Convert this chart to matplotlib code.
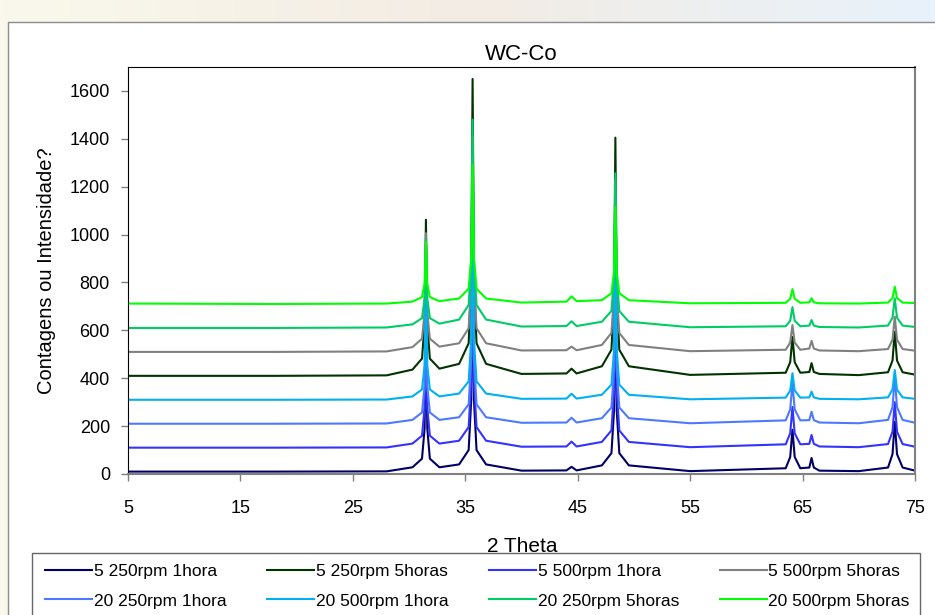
import matplotlib
matplotlib.use('Agg')
import matplotlib.pyplot as plt
from matplotlib.patches import Rectangle
import numpy as np

plt.rcParams['font.family'] = ['Liberation Sans', 'DejaVu Sans']

# ---- data (2 theta grid shared by all patterns) ----
two_theta = [5, 18, 28, 30.3, 31.15, 31.38, 31.5, 31.62, 31.85, 32.7,
             34.45, 35.3, 35.53, 35.65, 35.77, 36.0, 36.85, 40,
             44.0, 44.45, 44.9, 47.15, 48.0, 48.23, 48.35, 48.47, 48.7, 49.55,
             55, 63.5, 63.9, 64.1, 64.3, 64.8, 65.6, 65.8, 66.0, 66.5,
             70, 72.6, 73.0, 73.2, 73.4, 73.9, 75]

counts_5_250_1h = [10, 10, 11, 28, 64, 190, 610, 190, 64, 28,
                   40, 100, 310, 1010, 310, 100, 40, 14,
                   15, 30, 15, 36, 87, 265, 860, 265, 87, 36,
                   12, 24, 71, 185, 71, 24, 27, 67, 27, 14,
                   12, 27, 83, 218, 83, 27, 14]
counts_5_250_5h = [410, 410, 412, 436, 482, 625, 1062, 625, 482, 440,
                   460, 546, 819, 1650, 819, 546, 460, 418,
                   420, 440, 420, 450, 519, 738, 1405, 738, 519, 450,
                   414, 423, 467, 572, 467, 423, 426, 463, 426, 418,
                   413, 425, 474, 594, 474, 425, 415]
counts_5_500_1h = [110, 110, 111, 127, 160, 278, 670, 278, 160, 127,
                   139, 196, 395, 1060, 395, 196, 139, 114,
                   115, 135, 115, 134, 182, 350, 910, 350, 182, 134,
                   112, 124, 170, 280, 170, 124, 126, 163, 126, 115,
                   112, 125, 177, 300, 177, 125, 114]
counts_5_500_5h = [510, 510, 512, 530, 565, 674, 1006, 674, 565, 532,
                   546, 609, 807, 1410, 807, 609, 546, 516,
                   517, 532, 517, 539, 589, 748, 1230, 748, 589, 539,
                   513, 519, 549, 622, 549, 519, 524, 556, 524, 516,
                   513, 522, 561, 657, 561, 522, 515]
counts_20_250_1h = [210, 210, 211, 226, 257, 366, 730, 366, 257, 226,
                    237, 291, 480, 1110, 480, 291, 237, 214,
                    215, 235, 215, 233, 278, 438, 970, 438, 278, 233,
                    212, 224, 270, 380, 270, 224, 225, 260, 225, 215,
                    212, 226, 279, 406, 279, 226, 214]
counts_20_500_1h = [310, 310, 311, 324, 353, 454, 790, 454, 353, 324,
                    336, 387, 565, 1160, 565, 387, 336, 314,
                    315, 335, 315, 331, 373, 520, 1010, 520, 373, 331,
                    312, 319, 349, 421, 349, 319, 320, 344, 320, 314,
                    312, 320, 353, 434, 353, 320, 314]
counts_20_250_5h = [610, 610, 612, 625, 651, 732, 980, 732, 651, 628,
                    645, 706, 897, 1480, 897, 706, 645, 616,
                    618, 638, 618, 636, 681, 823, 1256, 823, 681, 636,
                    613, 617, 640, 697, 640, 617, 620, 643, 620, 614,
                    612, 620, 653, 734, 653, 620, 614]
counts_20_500_5h = [712, 710, 712, 720, 739, 796, 970, 796, 739, 722,
                    733, 774, 901, 1290, 901, 774, 733, 716,
                    720, 742, 722, 726, 755, 844, 1116, 844, 755, 726,
                    713, 715, 732, 772, 732, 715, 717, 734, 717, 713,
                    712, 716, 735, 782, 735, 716, 714]

series_labels = ['5 250rpm 1hora', '5 250rpm 5horas', '5 500rpm 1hora', '5 500rpm 5horas',
                 '20 250rpm 1hora', '20 500rpm 1hora', '20 250rpm 5horas', '20 500rpm 5horas']
series_colors = ['#000066', '#003300', '#3333FF', '#808080',
                 '#4D79FF', '#00B0F0', '#00CC66', '#00FF00']
series_counts = [counts_5_250_1h, counts_5_250_5h, counts_5_500_1h, counts_5_500_5h,
                 counts_20_250_1h, counts_20_500_1h, counts_20_250_5h, counts_20_500_5h]

W, H = 935, 615
fig = plt.figure(figsize=(W / 100, H / 100), dpi=100)

# soft gradient behind the chart area
bg = fig.add_axes([0, 0, 1, 1], zorder=-10)
bg.axis('off')
gx = np.linspace(0, 1, 200)
left_c = np.array([250, 248, 236]) / 255
mid_c = np.array([243, 236, 228]) / 255
right_c = np.array([232, 242, 251]) / 255
row = np.where(gx[:, None] < 0.5,
               left_c + (mid_c - left_c) * (gx[:, None] / 0.5),
               mid_c + (right_c - mid_c) * ((gx[:, None] - 0.5) / 0.5))
img = np.repeat(row[None, :, :], 50, axis=0)
bg.imshow(img, aspect='auto', extent=[0, 1, 0, 1])
bg.set_xlim(0, 1)
bg.set_ylim(0, 1)

# white chart area (runs off right and bottom edges)
fig.patches.append(Rectangle((8 / W, -0.1), 1.0, 1.1 - 22 / H, transform=fig.transFigure,
                             facecolor='white', edgecolor='#8C8C8C', linewidth=1.0, zorder=-5))

ax = fig.add_axes([128 / W, 141 / H, 787 / W, 407 / H])
for lab, col, y in zip(series_labels, series_colors, series_counts):
    ax.plot(two_theta, y, color=col, linewidth=1.5, label=lab)

ax.set_xlim(5, 75)
ax.set_ylim(0, 1700)
ax.set_xticks(np.arange(5, 76, 10))
ax.set_yticks(np.arange(0, 1601, 200))
ax.tick_params(axis='x', direction='out', length=5, width=1, color='#808080',
               labelsize=13, pad=14)
ax.tick_params(axis='y', direction='out', length=5, width=1, color='#808080',
               labelsize=13, pad=8)
for s in ['left', 'top']:
    ax.spines[s].set_color('black')
for s in ['right', 'bottom']:
    ax.spines[s].set_color('#808080')
ax.spines['bottom'].set_linewidth(1.5)
ax.spines['right'].set_linewidth(1.5)

ax.set_title('WC-Co', fontsize=16, pad=5)
ax.set_ylabel('Contagens ou Intensidade?', fontsize=14.5, labelpad=10)
fig.text(522 / W, 1 - 546 / H, '2 Theta', fontsize=15, ha='center', va='center')

# legend box running off the bottom edge
fig.patches.append(Rectangle((32 / W, -0.1), 888 / W, 0.1 + (H - 553) / H,
                             transform=fig.transFigure, facecolor='white',
                             edgecolor='#666666', linewidth=1.0, zorder=1))
handles, labels = ax.get_legend_handles_labels()
order = [0, 4, 1, 5, 2, 6, 3, 7]
leg = fig.legend([handles[i] for i in order], [labels[i] for i in order],
                 ncol=4, loc='upper left', bbox_to_anchor=(45 / W, 1 - 564 / H),
                 frameon=False, fontsize=12.5, handlelength=2.7, handletextpad=0.1,
                 columnspacing=2.35, labelspacing=0.82, borderaxespad=0, borderpad=0)
leg.set_zorder(2)

fig.savefig('out.png', dpi=100)
